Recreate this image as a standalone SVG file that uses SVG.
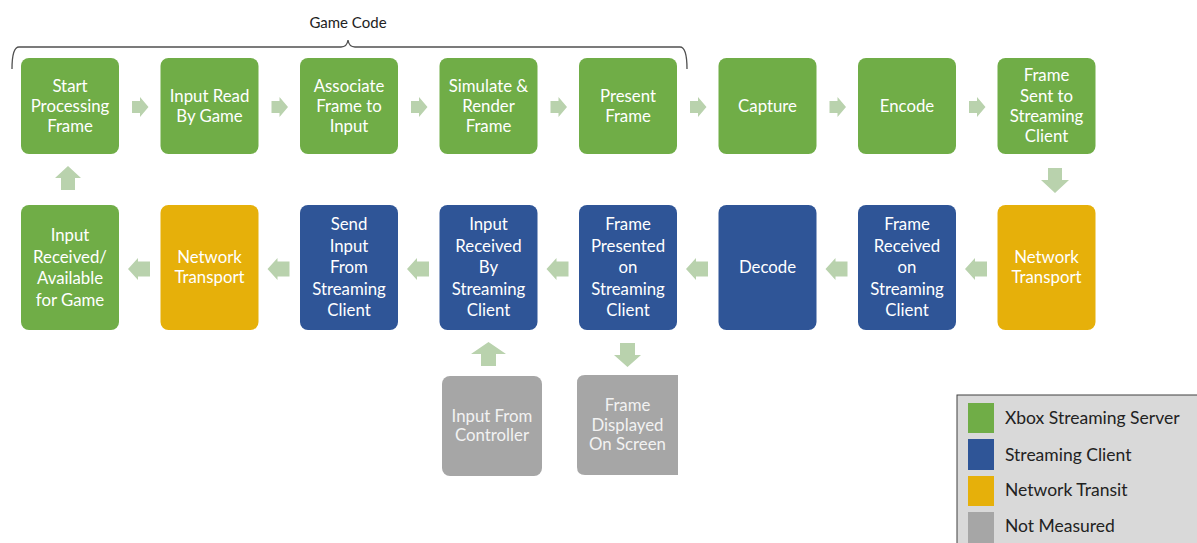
<svg xmlns="http://www.w3.org/2000/svg" width="1197" height="543" viewBox="0 0 1197 543">
<style>
.bx{stroke:none}
.g{fill:#70ad47}.b{fill:#2f5597}.y{fill:#e6b00a}.n{fill:#a6a6a6}
.t{font-family:Lato,"Open Sans","Liberation Sans",sans-serif;font-size:16.8px;fill:#ffffff;text-anchor:middle}
.tn{fill:#f2f2f2}
.ar{fill:#b9d2ad}
.lt{font-family:Lato,"Open Sans","Liberation Sans",sans-serif;font-size:17.5px;fill:#222222}
</style>
<rect width="1197" height="543" fill="#ffffff"/>
<g id="brace">
<path d="M12 69 Q12 47 19 47 L341 47 Q347 47 348 40 Q349 47 355 47 L680 47 Q687 47 687 69" fill="none" stroke="#505050" stroke-width="1.3"/>
<text x="348" y="28" class="lt" style="font-size:15px;text-anchor:middle">Game Code</text>
</g>
<g id="n1"><rect class="bx g" x="21" y="58" width="98" height="96" rx="8"/><text class="t"><tspan x="70" y="92">Start</tspan><tspan x="70" y="112">Processing</tspan><tspan x="70" y="132">Frame</tspan></text></g>
<g id="n2"><rect class="bx g" x="160.5" y="58" width="98" height="96" rx="8"/><text class="t"><tspan x="209.5" y="102">Input Read</tspan><tspan x="209.5" y="122">By Game</tspan></text></g>
<g id="n3"><rect class="bx g" x="300" y="58" width="98" height="96" rx="8"/><text class="t"><tspan x="349" y="92">Associate</tspan><tspan x="349" y="112">Frame to</tspan><tspan x="349" y="132">Input</tspan></text></g>
<g id="n4"><rect class="bx g" x="439.5" y="58" width="98" height="96" rx="8"/><text class="t"><tspan x="488.5" y="92">Simulate &amp;</tspan><tspan x="488.5" y="112">Render</tspan><tspan x="488.5" y="132">Frame</tspan></text></g>
<g id="n5"><rect class="bx g" x="579" y="58" width="98" height="96" rx="8"/><text class="t"><tspan x="628" y="102">Present</tspan><tspan x="628" y="122">Frame</tspan></text></g>
<g id="n6"><rect class="bx g" x="718.5" y="58" width="98" height="96" rx="8"/><text class="t"><tspan x="767.5" y="112">Capture</tspan></text></g>
<g id="n7"><rect class="bx g" x="858" y="58" width="98" height="96" rx="8"/><text class="t"><tspan x="907" y="112">Encode</tspan></text></g>
<g id="n8"><rect class="bx g" x="997.5" y="58" width="98" height="96" rx="8"/><text class="t"><tspan x="1046.5" y="81">Frame</tspan><tspan x="1046.5" y="102">Sent to</tspan><tspan x="1046.5" y="122">Streaming</tspan><tspan x="1046.5" y="142">Client</tspan></text></g>
<g id="m1"><rect class="bx g" x="21" y="205" width="98" height="125" rx="8"/><text class="t"><tspan x="70" y="241">Input</tspan><tspan x="70" y="263">Received/</tspan><tspan x="70" y="284">Available</tspan><tspan x="70" y="306">for Game</tspan></text></g>
<g id="m2"><rect class="bx y" x="160.5" y="205" width="98" height="125" rx="8"/><text class="t"><tspan x="209.5" y="263">Network</tspan><tspan x="209.5" y="283">Transport</tspan></text></g>
<g id="m3"><rect class="bx b" x="300" y="205" width="98" height="125" rx="8"/><text class="t"><tspan x="349" y="230">Send</tspan><tspan x="349" y="251.5">Input</tspan><tspan x="349" y="273">From</tspan><tspan x="349" y="294.5">Streaming</tspan><tspan x="349" y="316">Client</tspan></text></g>
<g id="m4"><rect class="bx b" x="439.5" y="205" width="98" height="125" rx="8"/><text class="t"><tspan x="488.5" y="230">Input</tspan><tspan x="488.5" y="251.5">Received</tspan><tspan x="488.5" y="273">By</tspan><tspan x="488.5" y="294.5">Streaming</tspan><tspan x="488.5" y="316">Client</tspan></text></g>
<g id="m5"><rect class="bx b" x="579" y="205" width="98" height="125" rx="8"/><text class="t"><tspan x="628" y="230">Frame</tspan><tspan x="628" y="251.5">Presented</tspan><tspan x="628" y="273">on</tspan><tspan x="628" y="294.5">Streaming</tspan><tspan x="628" y="316">Client</tspan></text></g>
<g id="m6"><rect class="bx b" x="718.5" y="205" width="98" height="125" rx="8"/><text class="t"><tspan x="767.5" y="273">Decode</tspan></text></g>
<g id="m7"><rect class="bx b" x="858" y="205" width="98" height="125" rx="8"/><text class="t"><tspan x="907" y="230">Frame</tspan><tspan x="907" y="251.5">Received</tspan><tspan x="907" y="273">on</tspan><tspan x="907" y="294.5">Streaming</tspan><tspan x="907" y="316">Client</tspan></text></g>
<g id="m8"><rect class="bx y" x="997.5" y="205" width="98" height="125" rx="8"/><text class="t"><tspan x="1046.5" y="263">Network</tspan><tspan x="1046.5" y="283">Transport</tspan></text></g>
<g id="g1"><rect class="bx n" x="442" y="376" width="100" height="100" rx="8"/><text class="t tn"><tspan x="492" y="422">Input From</tspan><tspan x="492" y="441">Controller</tspan></text></g>
<g id="g2"><path class="bx n" d="M585 375 L678 375 L678 475 L585 475 Q577 475 577 467 L577 383 Q577 375 585 375 Z"/><text class="t tn"><tspan x="627.5" y="411">Frame</tspan><tspan x="627.5" y="431">Displayed</tspan><tspan x="627.5" y="450">On Screen</tspan></text></g>
<g id="connectors" class="ar">
<path d="M132 101 L140 101 L140 97 L148.5 107 L140 117 L140 113 L132 113 Z"/>
<path d="M271.5 101 L279.5 101 L279.5 97 L288 107 L279.5 117 L279.5 113 L271.5 113 Z"/>
<path d="M411 101 L419 101 L419 97 L427.5 107 L419 117 L419 113 L411 113 Z"/>
<path d="M550.5 101 L558.5 101 L558.5 97 L567 107 L558.5 117 L558.5 113 L550.5 113 Z"/>
<path d="M690 101 L698 101 L698 97 L706.5 107 L698 117 L698 113 L690 113 Z"/>
<path d="M829.5 101 L837.5 101 L837.5 97 L846 107 L837.5 117 L837.5 113 L829.5 113 Z"/>
<path d="M969 101 L977 101 L977 97 L985.5 107 L977 117 L977 113 L969 113 Z"/>
<path d="M1048 168 L1062 168 L1062 180 L1069 180 L1055 193 L1041 180 L1048 180 Z"/>
<path d="M150 261.5 L138 261.5 L138 258 L128 269 L138 280 L138 276.5 L150 276.5 Z"/>
<path d="M289.5 261.5 L277.5 261.5 L277.5 258 L267.5 269 L277.5 280 L277.5 276.5 L289.5 276.5 Z"/>
<path d="M429 261.5 L417 261.5 L417 258 L407 269 L417 280 L417 276.5 L429 276.5 Z"/>
<path d="M568.5 261.5 L556.5 261.5 L556.5 258 L546.5 269 L556.5 280 L556.5 276.5 L568.5 276.5 Z"/>
<path d="M708 261.5 L696 261.5 L696 258 L686 269 L696 280 L696 276.5 L708 276.5 Z"/>
<path d="M847.5 261.5 L835.5 261.5 L835.5 258 L825.5 269 L835.5 280 L835.5 276.5 L847.5 276.5 Z"/>
<path d="M987 261.5 L975 261.5 L975 258 L965 269 L975 280 L975 276.5 L987 276.5 Z"/>
<path d="M61 190 L75 190 L75 178 L81 178 L68 166 L55 178 L61 178 Z"/>
<path d="M481 366 L496 366 L496 354 L506 354 L488.5 342 L471 354 L481 354 Z"/>
<path d="M620 343 L635 343 L635 355 L641 355 L627.5 367 L614 355 L620 355 Z"/>
</g>
<g id="legend">
<rect x="957" y="395" width="245" height="153" fill="#d9d9d9" stroke="#404040" stroke-width="1"/>
<rect class="g" x="968" y="403" width="26" height="30"/>
<rect class="b" x="968" y="439" width="26" height="31"/>
<rect class="y" x="968" y="476" width="26" height="30"/>
<rect class="n" x="968" y="512" width="26" height="31"/>
<text class="lt" x="1005" y="424">Xbox Streaming Server</text>
<text class="lt" x="1005" y="461">Streaming Client</text>
<text class="lt" x="1005" y="496">Network Transit</text>
<text class="lt" x="1005" y="532">Not Measured</text>
</g>
</svg>
